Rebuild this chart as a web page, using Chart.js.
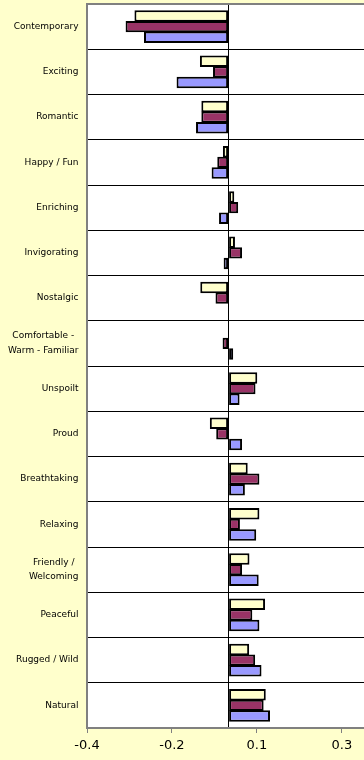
<!DOCTYPE html>
<html>
<head>
<meta charset="utf-8">
<script src="https://cdn.jsdelivr.net/npm/chart.js@4/dist/chart.umd.min.js"></script>
<style>
  html, body { margin:0; padding:0; background:#FFFFCC; }
  #wrap { position:relative; width:364px; height:760px; }
</style>
</head>
<body>
<div id="wrap"><canvas id="chart"></canvas></div>
<script>
/* ---------- data (top to bottom) ---------- */
const categories = [
  "Contemporary", "Exciting", "Romantic", "Happy / Fun", "Enriching", "Invigorating",
  "Nostalgic", ["Comfortable -", "Warm - Familiar"], "Unspoilt", "Proud", "Breathtaking",
  "Relaxing", ["Friendly /", "Welcoming"], "Peaceful", "Rugged / Wild", "Natural"
];
const seriesA = [-0.266, -0.081, -0.077, -0.016, 0.016, 0.018, -0.080, 0, 0.081, -0.053, 0.054, 0.087, 0.059, 0.103, 0.058, 0.105];
const seriesB = [-0.291, -0.044, -0.077, -0.032, 0.027, 0.038, -0.037, -0.017, 0.076, -0.035, 0.087, 0.032, 0.038, 0.067, 0.075, 0.099];
const seriesC = [-0.239, -0.147, -0.092, -0.048, -0.027, -0.014, 0, 0.013, 0.031, 0.038, 0.046, 0.078, 0.085, 0.087, 0.093, 0.117];
const xTicks = [-0.4, -0.16, 0.08, 0.32];   // shown as -0.4, -0.2, 0.1, 0.3

/* ---------- plugins ---------- */
// white plot area on the yellow chart background
const plotBg = {
  id: "plotBg",
  beforeDraw(chart){
    const {ctx, chartArea:a} = chart;
    ctx.save();
    ctx.fillStyle = "#FFFFCC";
    ctx.fillRect(0, 0, chart.width, chart.height);
    ctx.fillStyle = "#FFFFFF";
    ctx.fillRect(a.left, a.top, a.right - a.left, a.bottom - a.top);
    ctx.restore();
  }
};

// category labels: block right-aligned, lines centred inside the block
const catLabels = {
  id: "catLabels",
  afterDraw(chart){
    const ctx = chart.ctx, ys = chart.scales.y;
    ctx.save();
    ctx.font = '9px "DejaVu Sans"';
    ctx.fillStyle = "#000";
    ctx.textAlign = "center";
    ctx.textBaseline = "middle";
    categories.forEach((lab, i) => {
      const lines = Array.isArray(lab) ? lab : [lab];
      const w = Math.max(...lines.map(l => ctx.measureText(l).width));
      const cx = 78.5 - w / 2;
      const y = ys.getPixelForValue(i);
      lines.forEach((l, j) => ctx.fillText(l, cx, y + (j - (lines.length - 1) / 2) * 14.5));
    });
    ctx.restore();
  }
};

/* ---------- chart ---------- */
const bar = (label, data, color) => ({
  label, data, backgroundColor: color, borderColor: "#000", borderWidth: 2,
  borderSkipped: false, categoryPercentage: 0.70, barPercentage: 1.08
});

new Chart(document.getElementById("chart"), {
  type: "bar",
  data: {
    labels: categories,
    datasets: [
      bar("Series 1", seriesA, "#FFFFCC"),
      bar("Series 2", seriesB, "#993366"),
      bar("Series 3", seriesC, "#9999FF")
    ]
  },
  options: {
    indexAxis: "y",
    responsive: true,
    maintainAspectRatio: false,
    animation: false,
    layout: { padding: { top: 4, right: 0, left: 0, bottom: 0 } },
    plugins: { legend: { display: false }, tooltip: { enabled: false } },
    scales: {
      x: {
        min: -0.4, max: 0.3825,
        afterBuildTicks: s => { s.ticks = xTicks.concat([0]).sort((a,b)=>a-b).map(v => ({ value: v })); },
        afterFit: s => { s.height = 32; },
        ticks: {
          autoSkip: false, maxRotation: 0, padding: 5,
          color: "#000", font: { family: "DejaVu Sans", size: 13 },
          callback: v => v === 0 ? "" : v.toFixed(1)
        },
        grid: {
          color: c => (c.tick && c.tick.value === 0) ? "#000" : "transparent",
          tickColor: c => (c.tick && c.tick.value === 0) ? "transparent" : "#808080",
          lineWidth: 1, tickLength: 5
        },
        border: { color: "#808080", width: 2 }
      },
      y: {
        afterFit: s => { s.width = 87; },
        ticks: { display: false },
        grid: {
          color: c => c.index === 0 ? "#808080" : "#000",
          lineWidth: c => c.index === 0 ? 2 : 1,
          drawTicks: false
        },
        border: { color: "#808080", width: 2 }
      }
    }
  },
  plugins: [plotBg, catLabels]
});
</script>
</body>
</html>
